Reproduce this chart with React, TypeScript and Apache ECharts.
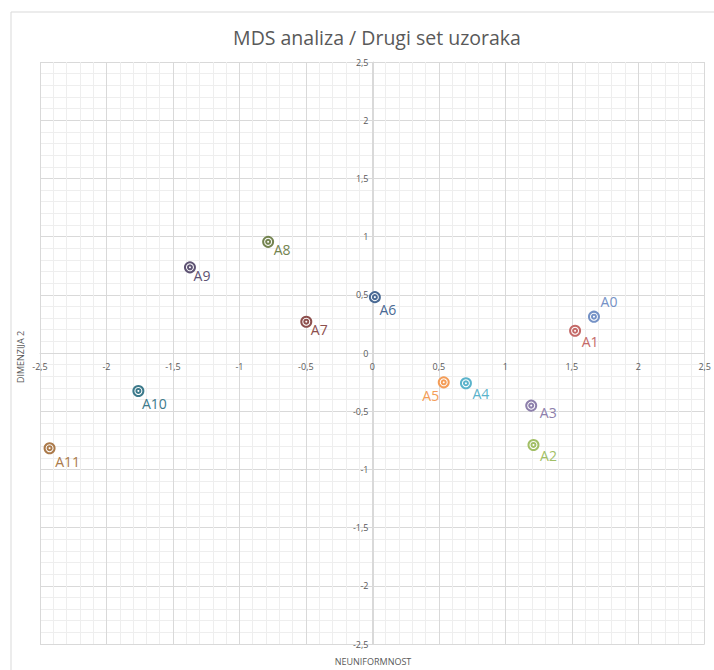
import React, { useEffect, useRef } from "react";
import * as echarts from "echarts";

const names = ["A0", "A1", "A2", "A3", "A4", "A5", "A6", "A7", "A8", "A9", "A10", "A11"];
const xValues = [1.667, 1.525, 1.212, 1.195, 0.704, 0.537, 0.019, -0.497, -0.784, -1.372, -1.76, -2.428];
const yValues = [0.312, 0.191, -0.79, -0.452, -0.26, -0.252, 0.48, 0.269, 0.955, 0.736, -0.326, -0.818];

const colors = ["#7592c6", "#c46a68", "#a2bf66", "#8e80ac", "#5ab3cb", "#f49d58", "#4a6a94", "#8d4f4d", "#748450", "#5e5373", "#3d7a8b", "#ab7a4a"];
const labelOffsets: number[][] = [[15, -15], [15, 11], [15, 11], [17, 7], [15, 10], [-13, 13], [13, 12], [13, 8], [14, 8], [12, 8], [16, 13], [18, 13]];

const fmt = (v: number) => String(v).replace(".", ",");

const GRID = { left: 40, right: 7, top: 62, bottom: 26 };
const W = 714;
const H = 670;

export default function App() {
  const ref = useRef<HTMLDivElement>(null);
  useEffect(() => {
    const chart = echarts.init(ref.current!, null, { renderer: "svg" });
    const plotW = W - GRID.left - GRID.right;
    const plotH = H - GRID.top - GRID.bottom;
    const outer = names.map((n, i) => ({
      value: [xValues[i], yValues[i]],
      name: n,
      itemStyle: { color: colors[i], borderColor: colors[i] },
      label: { color: colors[i], offset: labelOffsets[i] },
    }));
    const inner = names.map((n, i) => ({
      value: [xValues[i], yValues[i]],
      itemStyle: { color: colors[i], borderColor: colors[i] },
    }));
    const axisCommon = {
      type: "value" as const,
      min: -2.5,
      max: 2.5,
      interval: 0.5,
      axisLine: { show: true, onZero: false, lineStyle: { color: "#d9d9d9", width: 1 } },
      axisTick: { show: false },
      splitLine: { show: true, lineStyle: { color: "#d9d9d9", width: 1 } },
      minorTick: { show: false, splitNumber: 5 },
      minorSplitLine: { show: true, lineStyle: { color: "#eeeeee", width: 1 } },
    };
    chart.setOption({
      animation: false,
      backgroundColor: "#ffffff",
      textStyle: { fontFamily: "Open Sans" },
      grid: { ...GRID, containLabel: false },
      xAxis: {
        ...axisCommon,
        position: "bottom",
        offset: -plotH / 2,
        axisLabel: { formatter: fmt, fontSize: 9, color: "#595959", margin: 9, fontFamily: "Open Sans", showMinLabel: true, showMaxLabel: true },
      },
      yAxis: {
        ...axisCommon,
        position: "left",
        offset: -plotW / 2,
        axisLabel: { formatter: fmt, fontSize: 9, color: "#595959", margin: 5, fontFamily: "Open Sans", showMinLabel: true, showMaxLabel: true },
      },
      graphic: [
        { type: "rect", shape: { x: 11, y: 12, width: 720, height: 680 }, style: { fill: "none", stroke: "#d9d9d9", lineWidth: 1 }, silent: true, z: -1 },
        { type: "text", x: 377, y: 37, style: { text: "MDS analiza / Drugi set uzoraka", fontSize: 19.5, fill: "#595959", fontFamily: "Open Sans", align: "center", verticalAlign: "middle" } },
        { type: "text", x: 373, y: 661, style: { text: "NEUNIFORMNOST", fontSize: 9, fill: "#595959", fontFamily: "Open Sans", align: "center", verticalAlign: "middle" } },
        { type: "text", x: 20, y: 357, rotation: Math.PI / 2, style: { text: "DIMENZIJA 2", fontSize: 9, fill: "#595959", fontFamily: "Open Sans", align: "center", verticalAlign: "middle" } },
      ],
      series: [
        {
          type: "scatter",
          symbol: "emptyCircle",
          symbolSize: 10,
          itemStyle: { borderWidth: 1.2, opacity: 1 },
          label: { show: true, position: "inside", formatter: "{b}", fontSize: 14, fontFamily: "Open Sans" },
          data: outer,
          z: 3,
        },
        {
          type: "scatter",
          symbol: "emptyCircle",
          symbolSize: 4,
          itemStyle: { borderWidth: 1.1, opacity: 1 },
          data: inner,
          z: 4,
        },
      ],
    });
    return () => chart.dispose();
  }, []);
  return <div ref={ref} style={{ position: "fixed", left: 0, top: 0, width: W, height: H }} />;
}
